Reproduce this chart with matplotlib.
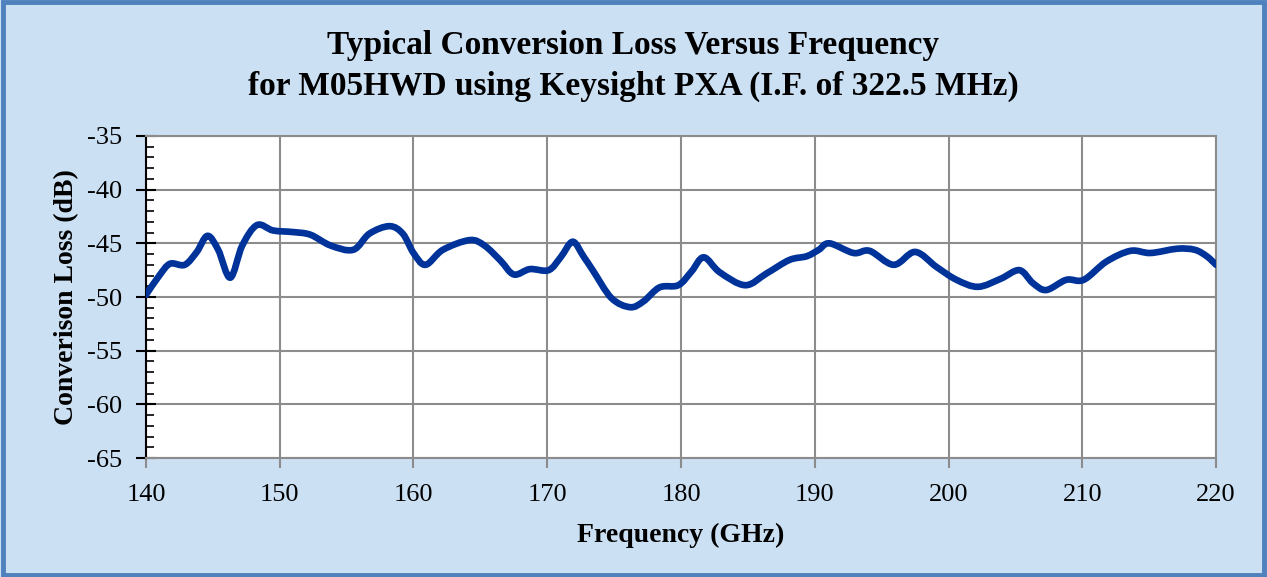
import numpy as np
import matplotlib
matplotlib.use("Agg")
import matplotlib.pyplot as plt
from matplotlib.patches import Rectangle, PathPatch
from matplotlib.path import Path

plt.rcParams["axes.unicode_minus"] = False

# values
freq_ghz = [140.0, 141.0, 141.8, 142.9, 143.8, 144.6, 145.4, 146.3, 147.2, 148.3,
            149.5, 151.0, 152.3, 153.8, 155.5, 156.7, 158.2, 159.2, 160.0, 160.9,
            162.2, 164.2, 165.3, 166.5, 167.5, 168.7, 170.1, 171.0, 171.9, 172.7,
            173.4, 174.8, 176.2, 177.2, 178.4, 179.8, 180.8, 181.7, 182.9, 184.8,
            186.4, 188.1, 189.4, 190.3, 191.1, 192.9, 194.1, 195.9, 197.5, 199.1,
            200.6, 202.2, 203.9, 205.3, 206.3, 207.3, 208.8, 210.1, 211.8, 213.6,
            215.1, 217.1, 218.4, 219.3, 220.0]
conv_loss_db = [-49.8, -48.0, -46.9, -47.0, -45.8, -44.3, -45.6, -48.2, -45.2, -43.3,
                -43.8, -43.95, -44.2, -45.2, -45.6, -44.1, -43.4, -44.1, -45.9, -47.0,
                -45.6, -44.7, -45.2, -46.6, -47.9, -47.4, -47.5, -46.3, -44.85, -46.2,
                -47.5, -50.1, -50.95, -50.4, -49.1, -48.9, -47.6, -46.3, -47.7, -48.9,
                -47.8, -46.55, -46.2, -45.6, -45.0, -45.9, -45.7, -47.0, -45.8, -47.2,
                -48.4, -49.05, -48.3, -47.5, -48.7, -49.35, -48.4, -48.4, -46.7, -45.7,
                -45.9, -45.5, -45.6, -46.2, -47.0]

x_ticks = [140, 150, 160, 170, 180, 190, 200, 210, 220]
y_ticks = [-65, -60, -55, -50, -45, -40, -35]


def smooth_path(xs, ys, k=1.0 / 6):
    # Excel-style smoothed line: cubic Bezier segments through every point
    p = np.column_stack([xs, ys])
    verts = [p[0]]
    codes = [Path.MOVETO]
    for i in range(len(p) - 1):
        p0 = p[i - 1] if i > 0 else p[i]
        p3 = p[i + 2] if i + 2 < len(p) else p[i + 1]
        c1 = p[i] + (p[i + 1] - p0) * k
        c2 = p[i + 1] - (p3 - p[i]) * k
        verts += [c1, c2, p[i + 1]]
        codes += [Path.CURVE4] * 3
    return Path(verts, codes)


bg = "#CCE0F4"
fig = plt.figure(figsize=(12.67, 5.77), dpi=100, facecolor=bg)
fig.patches.append(Rectangle((0.002, 0.004), 0.996, 0.992, transform=fig.transFigure,
                             fill=False, edgecolor="#4F81BD", linewidth=3.5))

serif = ["Liberation Serif", "DejaVu Serif"]
ax = fig.add_axes([0.1152, 0.2062, 0.8446, 0.5581])
ax.set_facecolor("white")
ax.add_patch(PathPatch(smooth_path(freq_ghz, conv_loss_db), facecolor="none",
                       edgecolor="#003399", linewidth=4.8, capstyle="round",
                       joinstyle="round", zorder=3))

ax.set_xlim(140, 220)
ax.set_ylim(-65, -35)
ax.set_xticks(x_ticks)
ax.set_yticks(y_ticks)
ax.set_yticks(np.arange(-65, -34, 1), minor=True)
ax.grid(True, which="major", color="#8C8C8C", linewidth=1.5)
ax.set_axisbelow(True)

for side in ["top", "right", "bottom"]:
    ax.spines[side].set_color("#8C8C8C")
    ax.spines[side].set_linewidth(1.5)
ax.spines["left"].set_color("black")
ax.spines["left"].set_linewidth(1.5)

ax.tick_params(axis="x", length=7, width=1.5, color="#8C8C8C", pad=12, labelsize=19)
ax.tick_params(axis="y", which="major", direction="inout", length=15, width=1.5,
               labelsize=19, pad=10)
ax.tick_params(axis="y", which="minor", direction="in", length=6, width=1.2)
for lab in ax.get_xticklabels() + ax.get_yticklabels():
    lab.set_family(serif)

ax.set_xlabel("Frequency (GHz)", family=serif, fontsize=20, fontweight="bold", labelpad=12)
ax.set_ylabel("Converison Loss (dB)", family=serif, fontsize=20, fontweight="bold", labelpad=5)

fig.text(0.5, 0.922, "Typical Conversion Loss Versus Frequency", ha="center", va="center",
         family=serif, fontsize=24, fontweight="bold")
fig.text(0.5, 0.851, "for M05HWD using Keysight PXA (I.F. of 322.5 MHz)", ha="center",
         va="center", family=serif, fontsize=24, fontweight="bold")

fig.savefig("out.png", dpi=100, facecolor=bg)
